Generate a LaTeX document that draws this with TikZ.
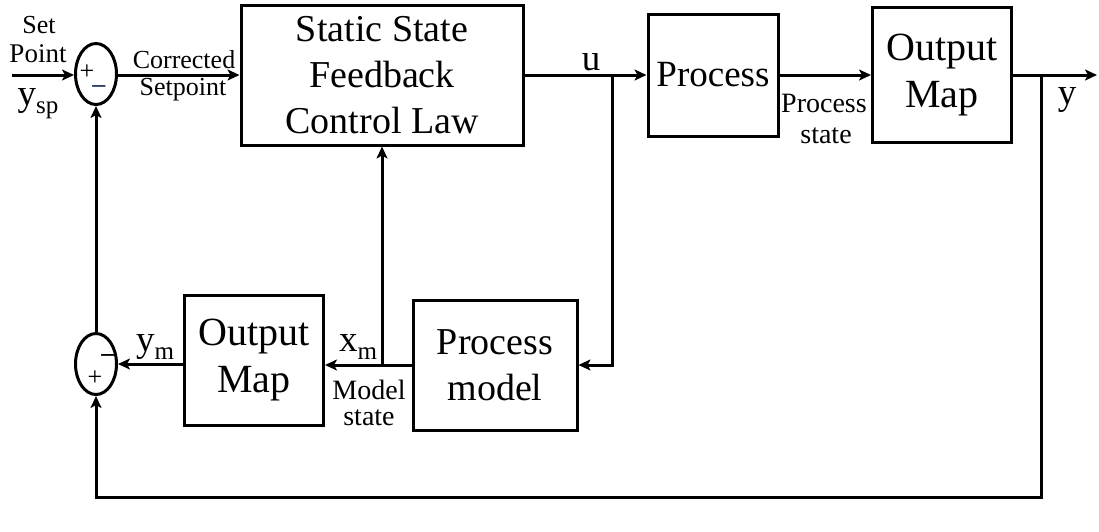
\documentclass[tikz,border=0pt]{standalone}
\usepackage{fontspec}
\setmainfont{Liberation Serif}
\usetikzlibrary{shapes.geometric,arrows.meta}
\newcommand\bigf{\fontsize{37}{46}\selectfont}
\newcommand\myfontg{\fontsize{38}{46}\selectfont}
\newcommand\myfonto{\fontsize{40}{47}\selectfont}
\newcommand\smf{\fontsize{26}{28}\selectfont}
\newcommand\smg{\fontsize{28}{31}\selectfont}
\newcommand\subf[1]{\raisebox{-8pt}{\fontsize{25}{25}\selectfont #1}}
\begin{document}
\begin{tikzpicture}[x=1pt,y=-1pt,
  line width=3pt,
  box/.style={draw,rectangle,inner sep=0pt,align=center,font=\bigf},
  sumj/.style={draw,ellipse,inner sep=0pt,minimum width=41pt,minimum height=61pt},
  arr/.style={-{Stealth[length=12pt,width=11pt,inset=3pt]}},
  lbl/.style={inner sep=0pt,align=center},
  every node/.style={line width=3pt}]
\useasboundingbox (0,0) rectangle (1099,531);
% blocks
\node[box,font=\myfontg,minimum width=282pt,minimum height=140pt] (ctl) at (382,75) {Static State\\Feedback\\Control Law};
\node[box,minimum width=130pt,minimum height=122pt] (proc) at (713,75) {Process};
\node[box,font=\myfonto,minimum width=139pt,minimum height=135pt] (om1) at (942,75) {Output\\Map};
\node[box,font=\myfonto,minimum width=139pt,minimum height=130pt] (om2) at (254,360) {Output\\Map};
\node[box,font=\myfontg,minimum width=164pt,minimum height=130pt] (pm) at (495,365) {Process\\model};
\node[sumj] (s1) at (96,74) {};
\node[sumj] (s2) at (96,364) {};
% coordinates
\coordinate (in) at (12,75);
\coordinate (out) at (1097,75);
\coordinate (b1) at (612,75);
\coordinate (b2) at (382,365);
\coordinate (b3) at (1041,75);
\coordinate (c3) at (1041,497);
% connectors
\draw[arr] (in) -- (in -| s1.west);
\draw[arr] (s1.east |- ctl.west) -- (ctl.west);
\draw[arr] (ctl.east) -- (proc.west);
\draw[arr] (proc.east) -- (om1.west);
\draw[arr] (om1.east) -- (out);
\draw[arr] (b1) |- (pm.east);
\draw[arr] (pm.west) -- (pm.west -| om2.east);
\draw[arr] (b2) -- (ctl.south);
\draw[arr] (om2.west |- s2.east) -- (s2.east);
\draw[arr] (s2.north) -- (s1.south);
\draw[arr] (b3) -- (c3) -| (s2.south);
% signs
\node[lbl,font=\smf] (p1) at (87,72) {+};
\node[lbl,font=\smf,text={rgb,255:red,40;green,60;blue,100}] (m1) at (99,89) {\textbf{--}};
\node[lbl,font=\smf] (m2) at (108,358) {\textbf{--}};
\node[lbl,font=\smf] (p2) at (95,378) {+};
% labels
\node[lbl,font=\smf] (setl) at (39,25) {Set};
\node[lbl,font=\fontsize{27}{29}\selectfont] (pointl) at (38,54) {Point};
\node[lbl,font=\bigf] (ysp) at (38,104) {y\subf{sp}};
\node[lbl,font=\smf] (corr) at (184,60) {Corrected};
\node[lbl,font=\smf] (setp) at (183,90) {Setpoint};
\node[lbl,font=\bigf] (ul) at (591,62) {u};
\node[lbl,font=\smg] (psl) at (824,103) {Process};
\node[lbl,font=\smg] (pst) at (826,136) {state};
\node[lbl,font=\bigf] (yl) at (1067,100) {y};
\node[lbl,font=\bigf] (yml) at (155,347) {y\subf{m}};
\node[lbl,font=\bigf] (xml) at (358,347) {x\subf{m}};
\node[lbl,font=\smg] (msl) at (369,390) {Model};
\node[lbl,font=\smg] (mst) at (369,418) {state};
\end{tikzpicture}
\end{document}
